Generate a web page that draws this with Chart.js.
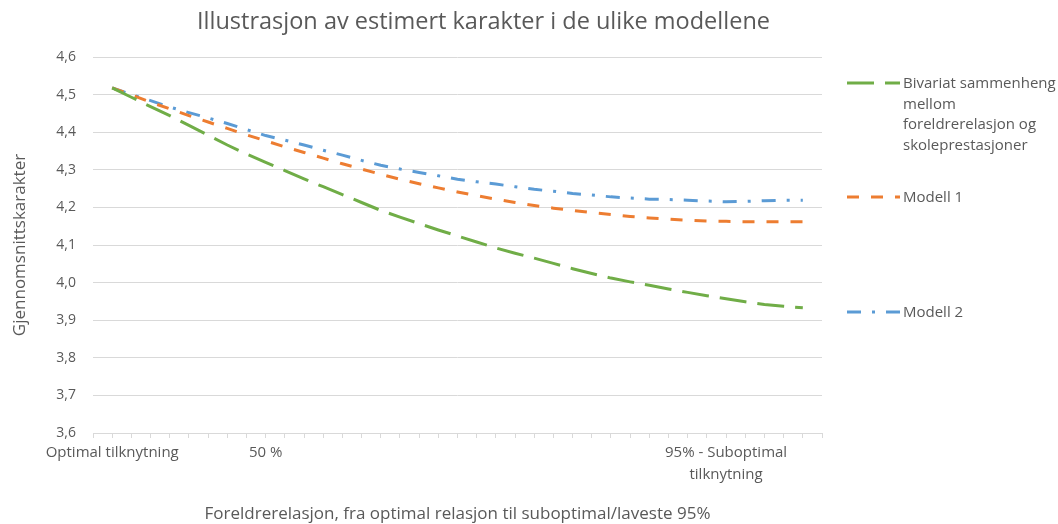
<!DOCTYPE html>
<html>
<head>
<meta charset="utf-8">
<script src="https://cdn.jsdelivr.net/npm/chart.js@4/dist/chart.umd.min.js"></script>
<style>
  html, body { margin: 0; padding: 0; background: #ffffff; overflow: hidden; }
  #wrap { position: relative; width: 1058px; height: 524px; background: #ffffff; overflow: hidden; }
  #c { position: absolute; left: 0; top: 0; }
  .lg { position: absolute; left: 847px; font-family: "Open Sans", sans-serif; font-size: 15px; color: #595959; line-height: 20.5px; }
  .lg svg { position: absolute; left: 0; }
  .lg .tx { position: absolute; left: 56px; width: 155px; white-space: normal; }
</style>
</head>
<body>
<div id="wrap">
  <canvas id="c" width="1058" height="524"></canvas>
</div>
<script>
// ---- data ----
const chartTitle = 'Illustrasjon av estimert karakter i de ulike modellene';
const xTitle = 'Foreldrerelasjon, fra optimal relasjon til suboptimal/laveste 95%';
const yTitle = 'Gjennomsnittskarakter';

const categories = [
  '', 'Optimal tilknytning', '', '', '', '', '', '', '', '50 %',
  '', '', '', '', '', '', '', '', '', '',
  '', '', '', '', '', '', '', '', '', '',
  '', '', '', ['95% - Suboptimal', 'tilknytning'], '', '', '', '', ''
];

const seriesNames = [
  'Bivariat sammenheng mellom foreldrerelasjon og skoleprestasjoner',
  'Modell 1',
  'Modell 2'
];

const bivariat = [
  null, 4.518, 4.493, 4.468, 4.444, 4.418, 4.392, 4.366, 4.342, 4.320,
  4.298, 4.276, 4.255, 4.234, 4.213, 4.192, 4.174, 4.157, 4.140, 4.124,
  4.108, 4.092, 4.078, 4.065, 4.051, 4.037, 4.024, 4.012, 4.002, 3.993,
  3.983, 3.974, 3.965, 3.957, 3.949, 3.942, 3.937, 3.933, null
];

const modell1 = [
  null, 4.518, 4.499, 4.480, 4.462, 4.444, 4.427, 4.410, 4.393, 4.377,
  4.361, 4.346, 4.331, 4.316, 4.302, 4.288, 4.275, 4.263, 4.252, 4.241,
  4.231, 4.222, 4.213, 4.205, 4.198, 4.192, 4.186, 4.181, 4.176, 4.172,
  4.169, 4.166, 4.164, 4.163, 4.162, 4.162, 4.162, 4.162, null
];

const modell2 = [
  null, 4.518, 4.500, 4.484, 4.467, 4.452, 4.438, 4.423, 4.407, 4.391,
  4.379, 4.366, 4.352, 4.339, 4.325, 4.312, 4.302, 4.293, 4.284, 4.275,
  4.268, 4.262, 4.255, 4.248, 4.243, 4.237, 4.233, 4.228, 4.225, 4.222,
  4.221, 4.219, 4.217, 4.215, 4.216, 4.218, 4.219, 4.219, null
];

const yMin = 3.6, yMax = 4.6, yStep = 0.1;

// ---- style ----
const txt = '#595959';
const gridCol = '#d9d9d9';
const fam = '"Open Sans", sans-serif';

const datasets = [
  { label: seriesNames[0], data: bivariat, borderColor: '#70ad47', borderDash: [27, 11] },
  { label: seriesNames[1], data: modell1, borderColor: '#ed7d31', borderDash: [12, 12] },
  { label: seriesNames[2], data: modell2, borderColor: '#5b9bd5', borderDash: [14, 11, 3, 11] }
].map(d => Object.assign(d, {
  borderWidth: 3, pointRadius: 0, pointHoverRadius: 0, fill: false, tension: 0,
  borderCapStyle: 'butt', spanGaps: false
}));

const chart = new Chart(document.getElementById('c'), {
  type: 'line',
  data: { labels: categories, datasets: datasets },
  options: {
    responsive: false,
    animation: false,
    devicePixelRatio: 1,
    layout: { padding: { left: 0, right: 91, top: 0, bottom: 0 } },
    plugins: {
      legend: { display: false },
      tooltip: { enabled: false },
      title: {
        display: true, text: chartTitle, color: txt,
        font: { family: fam, size: 23.5, weight: 'normal', lineHeight: 1.2 },
        padding: { top: 8, bottom: 20.8 }
      }
    },
    scales: {
      x: {
        type: 'category', offset: false,
        grid: { display: true, drawOnChartArea: false, drawTicks: true, tickLength: 5, color: gridCol },
        border: { display: true, color: gridCol, width: 1 },
        ticks: { autoSkip: false, maxRotation: 0, minRotation: 0, color: txt, padding: 4,
                 font: { family: fam, size: 15, lineHeight: 1.45 } },
        title: { display: true, text: xTitle, color: txt,
                 font: { family: fam, size: 17, lineHeight: 1.2 }, padding: { top: 0, bottom: 0 } },
        afterFit: s => { s.height = 91; }
      },
      y: {
        position: 'left', min: yMin, max: yMax,
        grid: { color: gridCol, drawTicks: false, lineWidth: 1 },
        border: { display: false },
        ticks: { stepSize: yStep, color: txt, padding: 17,
                 font: { family: fam, size: 14 },
                 callback: v => v.toFixed(1).replace('.', ',') },
        title: { display: true, text: yTitle, color: txt,
                 font: { family: fam, size: 17, lineHeight: 1.2 }, padding: { top: 10, bottom: 0 } },
        afterFit: s => { s.width = 93; }
      },
      yR: {
        position: 'right', min: yMin, max: yMax, display: true,
        grid: { display: false }, border: { display: false },
        ticks: { display: false },
        afterFit: s => { s.width = 145; }
      }
    }
  }
});

// ---- HTML legend built from datasets ----
const legendCenters = [82.7, 196.7, 311.7];
const wrap = document.getElementById('wrap');
chart.data.datasets.forEach((ds, i) => {
  const el = document.createElement('div');
  el.className = 'lg';
  el.style.top = (legendCenters[i] - 10.25) + 'px';
  const svgNS = 'http://www.w3.org/2000/svg';
  const svg = document.createElementNS(svgNS, 'svg');
  svg.setAttribute('width', '53'); svg.setAttribute('height', '6');
  svg.style.top = '7.25px';
  const ln = document.createElementNS(svgNS, 'line');
  ln.setAttribute('x1', '0'); ln.setAttribute('x2', '53');
  ln.setAttribute('y1', '3'); ln.setAttribute('y2', '3');
  ln.setAttribute('stroke', ds.borderColor);
  ln.setAttribute('stroke-width', '3');
  ln.setAttribute('stroke-dasharray', ds.borderDash.join(' '));
  svg.appendChild(ln);
  el.appendChild(svg);
  const t = document.createElement('div');
  t.className = 'tx';
  t.textContent = ds.label;
  el.appendChild(t);
  wrap.appendChild(el);
});
</script>
</body>
</html>
